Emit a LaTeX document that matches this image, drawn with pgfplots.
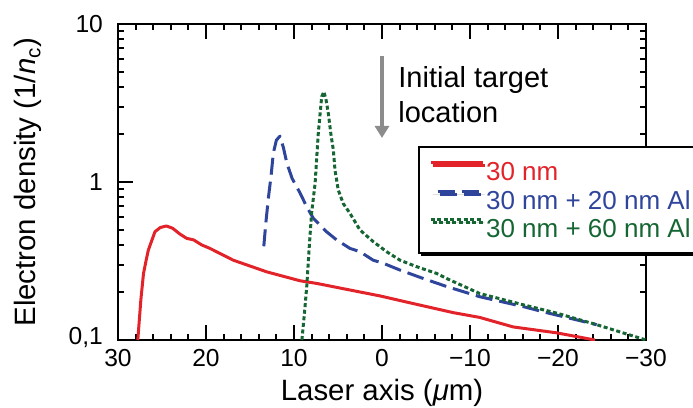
\documentclass[border=0pt]{standalone}
\usepackage{fontspec}
\setmainfont{Liberation Sans}
\usepackage{pgfplots}
\pgfplotsset{compat=1.18}
\usetikzlibrary{arrows.meta,shadows}
\definecolor{cred}{RGB}{226,35,42}
\definecolor{cblue}{RGB}{47,69,155}
\definecolor{cgreen}{RGB}{22,102,52}
\definecolor{cgray}{RGB}{140,140,140}
\begin{document}
\begin{tikzpicture}
\begin{axis}[
  scale only axis, width=264pt, height=158pt,
  x dir=reverse, xmin=-30, xmax=30,
  ymode=log, ymin=0.1, ymax=10,
  xtick={-30,-20,-10,0,10,20,30},
  xticklabels={−30,−20,−10,0,10,20,30},
  minor x tick num=4,
  ytick={0.1,1,10},
  yticklabels={{\raisebox{4pt}{0,1}},1,10},
  tick align=inside,
  tick style={line width=1pt, black},
  major tick length=7.5pt, minor tick length=3pt,
  axis line style={line width=1pt},
  tick label style={font=\fontsize{12.3}{14}\selectfont},
  /pgf/number format/assume math mode=true,
  xticklabel style={yshift=-1pt},
  yticklabel style={xshift=-4pt},
  xlabel={Laser axis (\textit{μ}m)},
  ylabel={Electron density (1/\textit{n}\textsubscript{c})},
  label style={font=\fontsize{14.7}{17}\selectfont},
  xlabel style={at={(axis description cs:0.5,-0.19)}, anchor=base},
  ylabel style={at={(axis description cs:-0.1553,0.5)}, anchor=base},
  legend style={at={(rel axis cs:0.568,0.614)}, anchor=north west,
    draw=black, line width=1.2pt, fill=white,
    drop shadow={shadow xshift=1pt, shadow yshift=-1.5pt, fill=black, opacity=1},
    inner xsep=5pt, inner ysep=5pt, row sep=0pt, column sep=1pt,
    font=\fontsize{13}{15}\selectfont,
    nodes={inner sep=0pt, text height=11.8pt, text depth=2.5pt}},
  legend cell align=left,
  legend image code/.code={\draw[#1] (0pt,4.5pt) -- (26pt,4.5pt);},
]
\addplot[cred, line width=1.5pt, line join=round] coordinates {
(27.75,0.1) (27.4,0.18) (27.1,0.264) (26.8,0.32) (26.55,0.371) (26.2,0.42)
(25.8,0.484) (25.2,0.515) (24.5,0.527) (23.8,0.51) (23.0,0.47) (22.2,0.44)
(21.4,0.43) (20.5,0.40) (19.55,0.38) (16.9,0.32) (13.1,0.27) (9.3,0.237)
(7.4,0.228) (3.6,0.207) (0.2,0.19) (-3.56,0.17) (-8.1,0.149) (-11.1,0.139)
(-14.9,0.121) (-19.85,0.111) (-24.2,0.1)
};
\addlegendentry{\textcolor{cred}{30 nm}}
\addplot[cblue, line width=1.5pt, dash pattern=on 8.5pt off 3.5pt, dash phase=8.5pt, line join=round] coordinates {
(13.5,0.354) (13.2,0.55) (12.9,0.8) (12.6,1.1) (12.35,1.52) (12.0,1.84)
(11.6,1.95) (11.2,1.65) (10.8,1.31) (10.2,1.05) (9.3,0.85) (8.56,0.698)
(7.8,0.589) (6.3,0.484) (5.15,0.43) (3.64,0.38) (2.5,0.362) (1.0,0.32)
(-0.15,0.306) (-2.05,0.277) (-4.7,0.245) (-7.35,0.218) (-11.1,0.188)
(-16.0,0.163) (-18.7,0.149) (-24.4,0.125)
};
\addlegendentry{\textcolor{cblue}{30 nm + 20 nm Al}}
\addplot[cgreen, line width=1.5pt, dash pattern=on 2pt off 1.3pt, line join=round] coordinates {
(9.1,0.1) (8.8,0.15) (8.55,0.218) (8.25,0.4) (8.0,0.634) (7.6,0.98)
(7.24,2.03) (6.85,3.47) (6.6,3.73) (6.35,3.3) (6.1,2.72) (5.8,2.0)
(5.53,1.6) (5.34,1.19) (4.97,0.89) (4.4,0.73) (3.64,0.634) (2.5,0.497)
(0.99,0.419) (-0.53,0.362) (-2.05,0.32) (-3.94,0.291) (-6.2,0.264)
(-7.35,0.245) (-11.1,0.197) (-16.06,0.167) (-19.85,0.148) (-24.4,0.125)
(-30,0.1)
};
\addlegendentry{\textcolor{cgreen}{30 nm + 60 nm Al}}
\draw[cgray, line width=2.2pt, -{Triangle[width=7pt,length=6pt]}]
  (axis cs:0,6.27) -- (axis cs:0,1.90);
\node[anchor=north west, inner sep=0pt, align=left,
  font=\fontsize{14.5}{17.5}\selectfont]
  at (axis cs:-1.82,5.42) {Initial target\\location};
\end{axis}
\pgfresetboundingbox
\useasboundingbox (-59pt,-34pt) rectangle (287.5pt,170pt);
\end{tikzpicture}
\end{document}
